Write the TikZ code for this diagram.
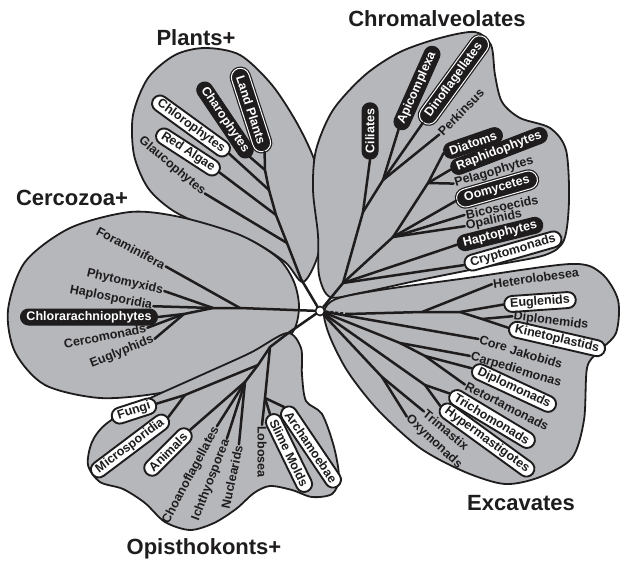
\documentclass[tikz,border=0pt]{standalone}
\usepackage{fontspec}
\setmainfont{Liberation Sans}
\definecolor{blobgray}{RGB}{182,183,187}
\definecolor{inkblack}{RGB}{30,28,29}
\tikzset{
  blob/.style={draw=inkblack, line width=1.8pt, fill=blobgray},
  branch/.style={draw=inkblack, line width=2.5pt, line cap=round},
  taxon/.style={font=\bfseries\fontsize{12.5}{14}\selectfont, inner sep=1.2pt, text=inkblack},
  pillb/.style={taxon, rectangle, rounded corners=8pt, minimum height=16pt, inner xsep=6pt, inner ysep=0.5pt, fill=inkblack, draw=inkblack, text=white, line width=1pt},
  pillw/.style={taxon, rectangle, rounded corners=8pt, minimum height=16pt, inner xsep=6pt, inner ysep=0.5pt, fill=white, draw=inkblack, line width=1.9pt},
  pilld/.style={pillb, double=white, double distance=1pt, line width=1.2pt, inner xsep=8pt, minimum height=18pt, rounded corners=9pt},
  group/.style={font=\bfseries\fontsize{22}{26}\selectfont, text=inkblack},
}
\begin{document}
\begin{tikzpicture}[x=1pt,y=-1pt]
\useasboundingbox (0,0) rectangle (623,567);

% the five groups
\draw[blob] plot[smooth cycle] coordinates {(303,282) (285,262) (250,240) (205,226) (172,210) (148,188) (134,155) (133,115) (148,78) (175,55) (205,48) (240,55) (272,85) (298,125) (316,165) (323,210) (318,255)};
\draw[blob] plot[smooth cycle] coordinates {(8,310) (25,262) (70,228) (130,212) (180,217) (240,235) (278,258) (294,282) (299,308) (292,333) (262,355) (215,378) (160,393) (100,398) (45,385) (15,352)};
\draw[blob] plot[smooth cycle] coordinates {(287,333) (301,348) (302,375) (306,401) (322,414) (334,447) (339,478) (332,494) (312,497) (292,490) (270,486) (254,493) (236,509) (214,523) (190,530) (165,522) (145,503) (123,489) (100,482) (88,465) (92,442) (106,424) (140,403) (197,377) (250,353)};
\draw[blob] plot[smooth cycle] coordinates {(330,297) (319,275) (318,235) (313,190) (316,150) (333,110) (365,75) (400,52) (440,38) (475,32) (491,45) (495,75) (502,102) (520,118) (550,128) (566,150) (569,200) (564,240) (545,255) (490,266) (420,280) (360,293)};
\draw[blob] plot[smooth cycle] coordinates {(324,312) (336,299) (380,290) (460,279) (570,264) (601,273) (618,300) (616,333) (598,352) (587,368) (584,420) (572,458) (540,477) (505,484) (465,472) (420,448) (378,410) (348,372) (330,337)};

% group names
\node[group] (tplants) at (196,38) {Plants+};
\node[group] (tchrom) at (437,19) {Chromalveolates};
\node[group] (tcerc) at (72,198) {Cercozoa+};
\node[group] (topis) at (204,549) {Opisthokonts+};
\node[group] (texca) at (521,503) {Excavates};

% root
\node[circle, draw=inkblack, fill=white, line width=1.6pt, inner sep=0pt, minimum size=9pt] (root) at (320,311) {};

% Plants+
\node[pilld, rotate=-72] (land) at (251,110) {Land Plants};
\node[pillb, rotate=-56] (charo) at (225,120) {Charophytes};
\node[pillw, rotate=-36] (chloro) at (191,126) {Chlorophytes};
\node[pillw, rotate=-33] (redalg) at (188,152) {Red Algae};
\node[taxon, rotate=-40] (glauco) at (172,166) {Glaucophytes};
\coordinate (pl0) at (301,279);
\coordinate (pl1) at (287,243);
\coordinate (pl2) at (276,215);
\coordinate (pl3) at (269,190);
\coordinate (pl4) at (265,170);
\draw[branch] (root) -- (pl0) -- (pl1) -- (pl2) -- (pl3) -- (pl4) -- (land.east);
\draw[branch] (pl4) -- (charo.east);
\draw[branch] (pl3) -- (chloro.east);
\draw[branch] (pl2) -- (redalg.east);
\draw[branch] (pl1) -- (glauco.east);

% Cercozoa+
\node[taxon, rotate=-28] (foram) at (131,248) {Foraminifera};
\node[taxon, rotate=-13] (phyto) at (125,282) {Phytomyxids};
\node[taxon, rotate=-11] (haplo) at (111,298) {Haplosporidia};
\node[pillb] (chlorar) at (89,317) {Chlorarachniophytes};
\node[taxon, rotate=11] (cercom) at (105,336) {Cercomonads};
\node[taxon, rotate=22] (eugly) at (122,352) {Euglyphids};
\coordinate (ce1) at (240,308);
\coordinate (ce2) at (213,308);
\coordinate (ce3) at (184,314);
\draw[branch] (root) -- (ce1) -- (ce2) -- (ce3) -- (chlorar.east);
\draw[branch] (ce1) -- (foram.east);
\foreach \n in {phyto,haplo} \draw[branch] (ce2) -- (\n.east);
\foreach \n in {cercom,eugly} \draw[branch] (ce3) -- (\n.east);

% Chromalveolates
\node[pillb, rotate=90] (cil) at (370,131) {Ciliates};
\node[pillb, rotate=66] (apic) at (417,88) {Apicomplexa};
\node[pilld, rotate=54] (dino) at (454,80) {Dinoflagellates};
\node[taxon, rotate=46] (perk) at (461,112) {Perkinsus};
\node[pillb, rotate=19] (diat) at (473,143) {Diatoms};
\node[pillb, rotate=21] (raph) at (499,151) {Raphidophytes};
\node[taxon, rotate=16] (pelago) at (494,172) {Pelagophytes};
\node[pilld, rotate=16] (oomy) at (497,189) {Oomycetes};
\node[taxon, rotate=12] (bico) at (502,207) {Bicosoecids};
\node[taxon, rotate=12] (opal) at (494,220) {Opalinids};
\node[pillb, rotate=14] (hapto) at (500,234) {Haptophytes};
\node[pillw, rotate=16] (crypto) at (513,251) {Cryptomonads};
\coordinate (ch0) at (343,283);
\coordinate (ch1) at (363,212);
\coordinate (ch2) at (383,180);
\coordinate (ch3) at (393,237);
\coordinate (ch4) at (428,183);
\draw[branch] (root) -- (ch0) -- (ch1) -- (cil.west);
\draw[branch] (ch1) -- (ch2);
\foreach \n in {apic,dino,perk} \draw[branch] (ch2) -- (\n.west);
\draw[branch] (ch0) -- (ch3) -- (ch4) -- (diat.west);
\foreach \n in {raph,pelago} \draw[branch] (ch4) -- (\n.west);
\foreach \n in {oomy,bico,opal} \draw[branch] (ch3) -- (\n.west);
\foreach \n in {hapto,crypto} \draw[branch] (ch0) -- (\n.west);

% Excavates
\node[taxon, rotate=8] (hetero) at (536,278) {Heterolobesea};
\node[pillw, rotate=4] (eugle) at (540,302) {Euglenids};
\node[taxon, rotate=-7] (diplon) at (551,321) {Diplonemids};
\node[pillw, rotate=-13] (kineto) at (557,339) {Kinetoplastids};
\node[taxon, rotate=-17] (jakob) at (521,352) {Core Jakobids};
\node[taxon, rotate=-17] (carpe) at (516,370) {Carpediemonas};
\node[taxon, rotate=-27] (retort) at (507,406) {Retortamonads};
\node[pillw, rotate=-25] (diplom) at (514,388) {Diplomonads};
\node[pillw, rotate=-31] (tricho) at (492,419) {Trichomonads};
\node[pillw, rotate=-36] (hyper) at (487,440) {Hypermastigotes};
\node[taxon, rotate=-40] (trimas) at (446,430) {Trimastix};
\node[taxon, rotate=-43] (oxy) at (434,442) {Oxymonads};
\coordinate (ex0) at (347,314);
\coordinate (ex1) at (422,312);
\coordinate (ex2) at (460,312);
\coordinate (ex3) at (482,319);
\coordinate (ex4) at (400,343);
\coordinate (ex5) at (425,356);
\coordinate (ex6) at (425,385);
\coordinate (ex7) at (382,377);
\draw[branch, line cap=butt, dash pattern=on 3pt off 2pt] (root) -- (ex0);
\draw[branch] (ex0) -- (ex1) -- (ex2) -- (ex3) -- (kineto.west);
\draw[branch] (ex1) -- (hetero.west);
\draw[branch] (ex2) -- (eugle.west);
\draw[branch] (ex3) -- (diplon.west);
\draw[branch] (root) -- (jakob.west);
\draw[branch] (root) -- (ex4) -- (carpe.west);
\draw[branch] (ex4) -- (ex5) -- (diplom.west);
\draw[branch] (ex5) -- (retort.west);
\draw[branch] (root) -- (ex6) -- (tricho.west);
\draw[branch] (ex6) -- (hyper.west);
\draw[branch] (root) -- (ex7) -- (trimas.west);
\draw[branch] (ex7) -- (oxy.west);

% Opisthokonts+
\node[pillw, rotate=18] (fungi) at (134,411) {Fungi};
\node[pillw, rotate=37] (micro) at (130,446) {Microsporidia};
\node[pillw, rotate=45] (animals) at (168,452) {Animals};
\node[taxon, rotate=62] (choano) at (191,475) {Choanoflagellates};
\node[taxon, rotate=69] (ichthy) at (211,480) {Ichthyosporea};
\node[taxon, rotate=78] (nuclear) at (232,477) {Nuclearids};
\node[taxon, rotate=-90] (lobosea) at (262,452) {Lobosea};
\node[pillw, rotate=-64] (slime) at (289,453) {Slime Molds};
\node[pillw, rotate=-56] (archa) at (311,447) {Archamoebae};
\coordinate (op1) at (287,334);
\coordinate (op2) at (270,347);
\coordinate (op3) at (258,365);
\coordinate (op4) at (245,382);
\coordinate (op5) at (185,395);
\coordinate (op6) at (265,398);
\draw[branch] (root) -- (op1) -- (op2) -- (op3) -- (op4);
\draw[branch] (op2) -- (op6) -- (lobosea.west);
\foreach \n in {slime,archa} \draw[branch] (op6) -- (\n.west);
\draw[branch] (op3) -- (op5) -- (fungi.east);
\draw[branch] (op5) -- (micro.east);
\foreach \n in {animals,choano,ichthy,nuclear} \draw[branch] (op4) -- (\n.east);
\end{tikzpicture}
\end{document}
